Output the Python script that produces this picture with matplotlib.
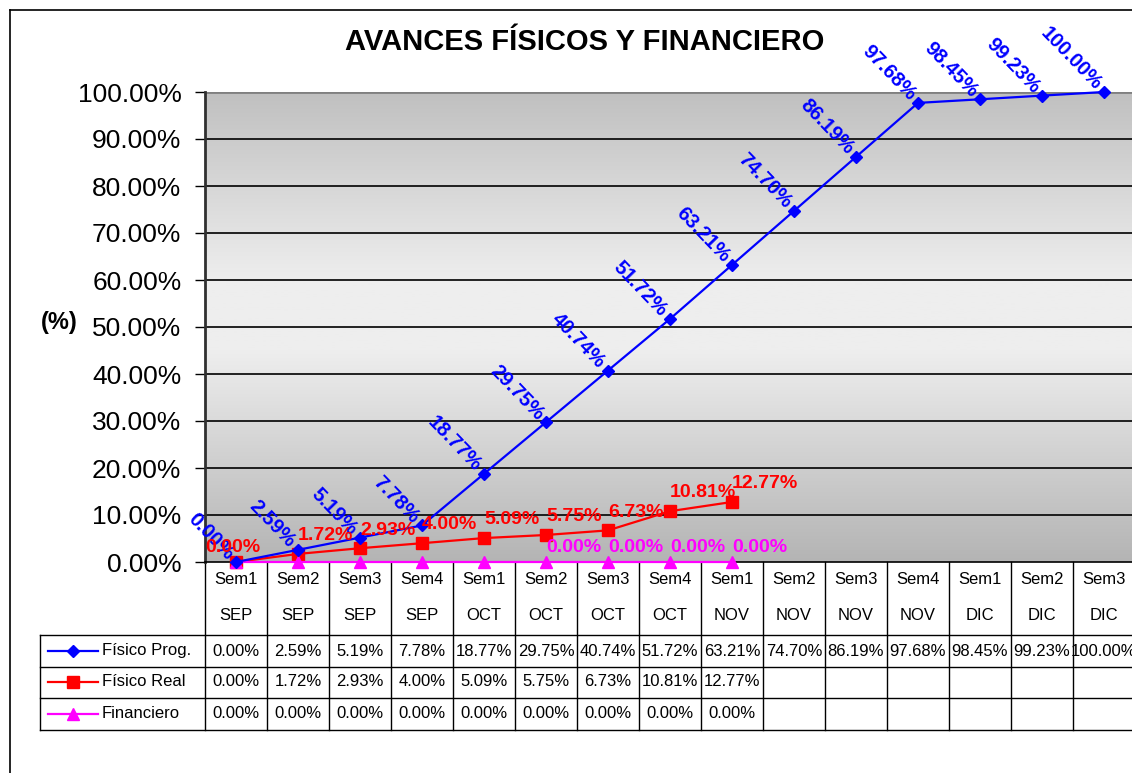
import numpy as np
import matplotlib
matplotlib.use("Agg")
import matplotlib.pyplot as plt
from matplotlib import transforms
from matplotlib.lines import Line2D
from matplotlib.colors import LinearSegmentedColormap

plt.rcParams['font.family'] = ['Liberation Sans', 'DejaVu Sans']

# ---------------- data ----------------
semanas = ["Sem1", "Sem2", "Sem3", "Sem4", "Sem1", "Sem2", "Sem3", "Sem4",
           "Sem1", "Sem2", "Sem3", "Sem4", "Sem1", "Sem2", "Sem3"]
meses = ["SEP", "SEP", "SEP", "SEP", "OCT", "OCT", "OCT", "OCT",
         "NOV", "NOV", "NOV", "NOV", "DIC", "DIC", "DIC"]
fisico_prog = [0.00, 2.59, 5.19, 7.78, 18.77, 29.75, 40.74, 51.72,
               63.21, 74.70, 86.19, 97.68, 98.45, 99.23, 100.00]
fisico_real = [0.00, 1.72, 2.93, 4.00, 5.09, 5.75, 6.73, 10.81, 12.77]
financiero = [0.00, 0.00, 0.00, 0.00, 0.00, 0.00, 0.00, 0.00, 0.00]
series_names = ["Físico Prog.", "Físico Real", "Financiero"]
yticks = [0, 10, 20, 30, 40, 50, 60, 70, 80, 90, 100]

W, H = 1132, 773
fig = plt.figure(figsize=(W / 100, H / 100), dpi=100)

def fx(px):
    return px / W

def fy(py):
    return 1 - py / H

# plot area
x0, x1, ytop, ybot = 205, 1135, 92, 562
ax = fig.add_axes([fx(x0), fy(ybot), fx(x1) - fx(x0), fy(ytop) - fy(ybot)])
n = len(semanas)
xs = np.arange(n)
ax.set_xlim(-0.5, n - 0.5)
ax.set_ylim(0, 100)

# gradient background
cmap = LinearSegmentedColormap.from_list(
    "g", [(0.0, "#b4b4b4"), (0.45, "#eeeeee"), (0.6, "#eeeeee"), (1.0, "#c0c0c0")])
grad = np.linspace(0, 1, 256).reshape(-1, 1)
ax.imshow(grad, cmap=cmap, aspect='auto', extent=[0, 1, 0, 1],
          transform=ax.transAxes, zorder=0, origin='lower')

for v in yticks[1:-1]:
    ax.axhline(v, color='black', lw=1.2, zorder=1)
ax.axhline(100, color='#808080', lw=2, zorder=1)

for s in ['top', 'right']:
    ax.spines[s].set_visible(False)
ax.spines['left'].set_color('#303030')
ax.spines['left'].set_linewidth(2)
ax.spines['bottom'].set_color('black')
ax.spines['bottom'].set_linewidth(1.2)
ax.set_xticks([])
ax.set_yticks(yticks)
ax.set_yticklabels([f"{v:.2f}%" for v in yticks], fontsize=19)
ax.tick_params(axis='y', direction='out', length=7, width=1, pad=10, colors='black')

# series
blue, red, mag = '#0000ff', '#ff0000', '#ff00ff'
ax.plot(xs, fisico_prog, color=blue, lw=1.6, marker='D', ms=6, zorder=4, clip_on=False)
xr = xs[:len(fisico_real)]
ax.plot(xr, fisico_real, color=red, lw=1.6, marker='s', ms=9, zorder=3, clip_on=False)
xf = xs[:len(financiero)]
ax.plot(xf, financiero, color=mag, lw=1.6, marker='^', ms=8, zorder=3.5, clip_on=False)

# data labels
for i, v in enumerate(fisico_prog):
    ax.annotate(f"{v:.2f}%", (xs[i], v), xytext=(-9, -1), textcoords='offset points',
                ha='right', va='bottom', rotation=-46, rotation_mode='anchor',
                color=blue, fontsize=14.5, fontweight='bold', zorder=6,
                annotation_clip=False)
for i, v in enumerate(fisico_real):
    if i == 0:
        ax.annotate(f"{v:.2f}%", (xs[i], v), xytext=(-2, 4), textcoords='offset points',
                    ha='center', va='bottom', color=red, fontsize=14, fontweight='bold',
                    zorder=6)
    else:
        ax.annotate(f"{v:.2f}%", (xs[i], v), xytext=(0, 7), textcoords='offset points',
                    ha='left', va='bottom', color=red, fontsize=14, fontweight='bold',
                    zorder=6)
for i, v in enumerate(financiero):
    if i >= 5:
        ax.annotate(f"{v:.2f}%", (xs[i], v), xytext=(0, 4), textcoords='offset points',
                    ha='left', va='bottom', color=mag, fontsize=14, fontweight='bold',
                    zorder=6)

# title and axis label
fig.text(fx(585), fy(42), "AVANCES FÍSICOS Y FINANCIERO", ha='center', va='center',
         fontsize=21, fontweight='bold')
fig.text(fx(59), fy(322), "(%)", ha='center', va='center', fontsize=17, fontweight='bold')

# figure border
fig.add_artist(Line2D([fx(10), fx(10)], [0, fy(10)], color='black', lw=1.2,
                      transform=fig.transFigure))
fig.add_artist(Line2D([fx(10), 1], [fy(10), fy(10)], color='black', lw=1.2,
                      transform=fig.transFigure))

# data table
tr = transforms.blended_transform_factory(ax.transData, fig.transFigure)
edges = np.arange(n + 1) - 0.5
for e in edges:
    ax.plot([e, e], [fy(562), fy(730)], color='black', lw=1, transform=tr,
            clip_on=False, zorder=2)
row_lines = [635, 667, 698, 730]
for yl in row_lines:
    fig.add_artist(Line2D([fx(40), 1], [fy(yl), fy(yl)], color='black', lw=1,
                          transform=fig.transFigure))
fig.add_artist(Line2D([fx(40), fx(40)], [fy(635), fy(730)], color='black', lw=1,
                      transform=fig.transFigure))
for i in range(n):
    ax.text(xs[i], fy(580), semanas[i], transform=tr, ha='center', va='center',
            fontsize=12, clip_on=False)
    ax.text(xs[i], fy(615), meses[i], transform=tr, ha='center', va='center',
            fontsize=12, clip_on=False)

row_centers = [651, 682, 714]
all_series = [fisico_prog, fisico_real, financiero]
for r, ser in enumerate(all_series):
    for i, v in enumerate(ser):
        ax.text(xs[i], fy(row_centers[r]), f"{v:.2f}%", transform=tr, ha='center',
                va='center', fontsize=12, clip_on=False)

leg_styles = [(blue, 'D', 6), (red, 's', 9), (mag, '^', 8)]
for r, (name, (c, m, ms)) in enumerate(zip(series_names, leg_styles)):
    yc = fy(row_centers[r])
    fig.add_artist(Line2D([fx(48), fx(98)], [yc, yc], color=c, lw=1.6,
                          transform=fig.transFigure))
    fig.add_artist(Line2D([fx(73)], [yc], color=c, marker=m, ms=ms,
                          transform=fig.transFigure))
    fig.text(fx(102), yc, name, ha='left', va='center', fontsize=12)

fig.savefig("out.png", dpi=100)
